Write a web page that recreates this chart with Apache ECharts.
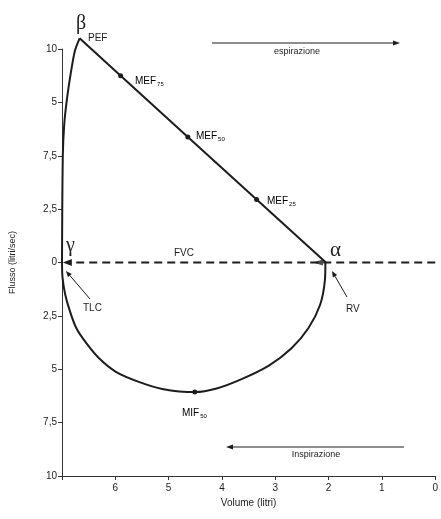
<!DOCTYPE html>
<html>
<head>
<meta charset="utf-8">
<script src="https://cdn.jsdelivr.net/npm/echarts/dist/echarts.min.js"></script>
<style>
html,body{margin:0;padding:0;background:#fff;}
#chart{width:441px;height:519px;}
</style>
</head>
<body>
<div id="chart"></div>
<script>
// ---- data ----
const volumeTickValues = [0, 1, 2, 3, 4, 5, 6];
const volumeTickLabels = ['0', '1', '2', '3', '4', '5', '6'];
const flowTickValues = [-10, -7.5, -5, -2.5, 0, 2.5, 5, 7.5, 10];
const flowTickLabels = ['10', '7,5', '5', '2,5', '0', '2,5', '7,5', '5', '10'];

// expiratory limb: rise from TLC to PEF
const expRiseVolume = [7.0, 6.995, 6.985, 6.96, 6.91, 6.84, 6.76, 6.67];
const expRiseFlow   = [0, 2.5, 5.0, 6.4, 7.6, 8.8, 9.9, 10.5];
// expiratory limb: PEF -> MEF75 -> MEF50 -> MEF25 -> RV
const expFallNames  = ['PEF', 'MEF75', 'MEF50', 'MEF25', 'RV'];
const expFallVolume = [6.67, 5.9, 4.64, 3.35, 2.05];
const expFallFlow   = [10.5, 8.75, 5.88, 2.95, 0];
// inspiratory limb: TLC -> MIF50 -> RV (negative flow)
const inspVolume = [7.0, 6.99, 6.94, 6.85, 6.73, 6.54, 6.30, 5.99, 5.56, 5.12, 4.51, 4.10, 3.62, 3.12, 2.70, 2.38, 2.16, 2.07, 2.06];
const inspFlow   = [0, -0.71, -1.50, -2.29, -3.08, -3.79, -4.50, -5.12, -5.59, -5.92, -6.07, -5.90, -5.45, -4.83, -4.03, -3.08, -1.99, -0.85, 0];
const mif50Index = 10;
// FVC zero line
const fvcVolume = [0, 6.9];
const fvcFlow = [0, 0];

// ---- chart ----
const ink = '#1c1c1c';
const chart = echarts.init(document.getElementById('chart'), null, {renderer: 'canvas'});

function zip(a, b) { return a.map((v, i) => [v, b[i]]); }

const fallData = zip(expFallVolume, expFallFlow).map((p, i) => ({
  value: p,
  symbolSize: (i >= 1 && i <= 3) ? 5 : 0
}));
const inspData = zip(inspVolume, inspFlow).map((p, i) => ({
  value: p,
  symbolSize: i === mif50Index ? 5 : 0
}));

const font = '"Liberation Sans", Arial, sans-serif';
const serif = '"Liberation Serif", "DejaVu Serif", serif';

function txt(x, y, text, opts) {
  return {
    type: 'text', x: x, y: y,
    style: Object.assign({text: text, font: '10px ' + font, fill: ink, textVerticalAlign: 'middle'}, (opts || {}))
  };
}
function subText(x, y, main, sub) {
  return {
    type: 'text', x: x, y: y,
    style: {
      text: '{m|' + main + '}{s|' + sub + '}',
      textVerticalAlign: 'middle',
      rich: {
        m: {fontSize: 10, fontFamily: font, color: ink},
        s: {fontSize: 6, fontFamily: font, color: ink, padding: [6, 0, 0, 1]}
      }
    }
  };
}
function arrow(x1, y1, x2, y2, head) {
  const ang = Math.atan2(y2 - y1, x2 - x1);
  const h = head || 6, w = 2.5;
  const bx = x2 - h * Math.cos(ang), by = y2 - h * Math.sin(ang);
  const px = -Math.sin(ang) * w, py = Math.cos(ang) * w;
  return [
    {type: 'line', shape: {x1: x1, y1: y1, x2: bx, y2: by}, style: {stroke: ink, lineWidth: 1}},
    {type: 'polygon', shape: {points: [[x2, y2], [bx + px, by + py], [bx - px, by - py]]}, style: {fill: ink}}
  ];
}

const option = {
  backgroundColor: '#fff',
  animation: false,
  grid: {left: 60, right: 2, top: 49, bottom: 43},
  xAxis: {
    type: 'value', min: 0, max: 7, interval: 1, inverse: true,
    name: 'Volume (litri)', nameLocation: 'middle', nameGap: 22,
    nameTextStyle: {fontSize: 10, fontFamily: font, color: ink},
    axisLine: {onZero: false, lineStyle: {color: '#333', width: 1}},
    axisTick: {show: true, length: 4, lineStyle: {color: '#333'}},
    splitLine: {show: false},
    axisLabel: {
      fontSize: 10, fontFamily: font, color: ink, margin: 7,
      formatter: function (v) {
        const i = volumeTickValues.indexOf(v);
        return i >= 0 ? volumeTickLabels[i] : '';
      }
    }
  },
  yAxis: {
    type: 'value', min: -10, max: 10, interval: 2.5,
    name: 'Flusso (litri/sec)', nameLocation: 'middle', nameGap: 45, nameRotate: 90,
    nameTextStyle: {fontSize: 9, fontFamily: font, color: ink},
    axisLine: {show: true, onZero: false, lineStyle: {color: '#333', width: 1}},
    axisTick: {show: true, length: 4, lineStyle: {color: '#333'}},
    splitLine: {show: false},
    axisLabel: {
      fontSize: 10, fontFamily: font, color: ink, margin: 5,
      formatter: function (v) {
        const i = flowTickValues.indexOf(v);
        return i >= 0 ? flowTickLabels[i] : '';
      }
    }
  },
  series: [
    {
      name: 'FVC', type: 'line', data: zip(fvcVolume, fvcFlow).map((p, i) => ({
        value: p, symbol: i === 1 ? 'triangle' : 'none', symbolSize: [7, 9], symbolRotate: 90
      })),
      lineStyle: {color: ink, width: 2, type: [8, 5]},
      itemStyle: {color: ink}, z: 2, clip: false
    },
    {
      name: 'rise', type: 'line', data: zip(expRiseVolume, expRiseFlow),
      smooth: 0.25, showSymbol: false, symbol: 'none', clip: false,
      lineStyle: {color: ink, width: 2}
    },
    {
      name: 'fall', type: 'line', data: fallData, clip: false,
      symbol: 'circle', showSymbol: true,
      lineStyle: {color: ink, width: 2}, itemStyle: {color: ink}
    },
    {
      name: 'insp', type: 'line', data: inspData, smooth: 0.3, clip: false,
      symbol: 'circle', showSymbol: true,
      lineStyle: {color: ink, width: 2}, itemStyle: {color: ink}
    },
    {
      name: 'rvmark', type: 'scatter', data: [[expFallVolume[4] + 0.15, 0]],
      symbol: 'triangle', symbolSize: [6, 10], symbolRotate: 90, itemStyle: {color: ink}
    }
  ]
};
chart.setOption(option);

const g = [];
g.push(txt(76, 24, 'β', {font: '20px ' + serif}));
g.push(txt(88, 38, 'PEF'));
g.push(subText(135, 81, 'MEF', '75'));
g.push(subText(196, 136, 'MEF', '50'));
g.push(subText(267, 201, 'MEF', '25'));
g.push(txt(330, 250, 'α', {font: '21px ' + serif}));
g.push(txt(66, 246, 'γ', {font: '20px ' + serif}));
g.push(txt(174, 253, 'FVC'));
g.push(txt(83, 308, 'TLC'));
g.push(txt(346, 309, 'RV'));
g.push(subText(182, 413, 'MIF', '50'));
g.push(txt(297, 52, 'espirazione', {font: '9px ' + font, textAlign: 'center'}));
g.push(txt(316, 455, 'Inspirazione', {font: '9px ' + font, textAlign: 'center'}));
arrow(212, 43, 400, 43, 7).forEach(e => g.push(e));
arrow(404, 447, 226, 447, 7).forEach(e => g.push(e));
arrow(90, 299, 66, 271, 6).forEach(e => g.push(e));
arrow(347, 297, 332, 271, 6).forEach(e => g.push(e));
chart.setOption({graphic: {elements: g}});
</script>
</body>
</html>
